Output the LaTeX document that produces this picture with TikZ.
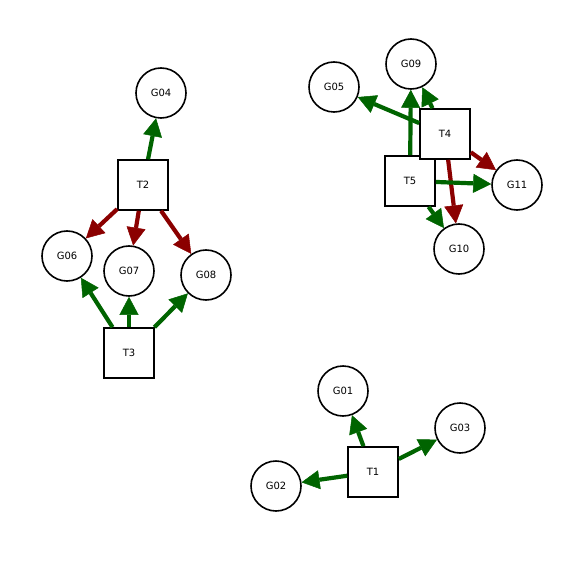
\documentclass[tikz,border=0pt]{standalone}
\usepackage{fontspec}
\setmainfont{DejaVu Sans}
\usetikzlibrary{arrows.meta}
\definecolor{eg}{RGB}{0,100,0}
\definecolor{er}{RGB}{139,0,0}
\begin{document}
\begin{tikzpicture}[x=1pt,y=-1pt,
  gnode/.style={circle,draw=black,line width=1.6pt,fill=white,minimum size=50pt,inner sep=0pt,font=\fontsize{10}{10}\selectfont},
  tnode/.style={rectangle,draw=black,line width=1.6pt,fill=white,minimum size=50pt,inner sep=0pt,font=\fontsize{10}{10}\selectfont},
  edge/.style={line width=4.2pt,-{Triangle[length=18pt,width=19pt,line width=0.5pt]}},
  ge/.style={edge,draw=eg,fill=eg},
  re/.style={edge,draw=er,fill=er}]
\useasboundingbox (0,0) rectangle (585,585);
\node[gnode] (G04) at (161,93) {G04};
\node[tnode] (T2) at (143,185) {T2};
\node[gnode] (G06) at (67,256) {G06};
\node[gnode] (G07) at (129,271) {G07};
\node[gnode] (G08) at (206,275) {G08};
\node[tnode] (T3) at (129,353) {T3};
\node[gnode] (G05) at (334,87) {G05};
\node[gnode] (G09) at (411,64) {G09};
\node[tnode] (T5) at (410,181) {T5};
\node[tnode] (T4) at (445,134) {T4};
\node[gnode] (G11) at (517,185) {G11};
\node[gnode] (G10) at (459,249) {G10};
\node[gnode] (G01) at (343,391) {G01};
\node[gnode] (G03) at (460,428) {G03};
\node[tnode] (T1) at (373,472) {T1};
\node[gnode] (G02) at (276,486) {G02};
\draw[ge] (T2) -- (G04);
\draw[re] (T2) -- (G06);
\draw[re] (T2) -- (G07);
\draw[re] (T2) -- (G08);
\draw[ge] (T3) -- (G06);
\draw[ge] (T3) -- (G07);
\draw[ge] (T3) -- (G08);
\draw[ge] (T4) -- (G05);
\draw[ge] (T4) -- (G09);
\draw[re] (T4) -- (G11);
\draw[re] (T4) -- (G10);
\draw[ge] (T5) -- (G09);
\draw[ge] (T5) -- (G11);
\draw[ge] (T5) -- (G10);
\draw[ge] (T1) -- (G01);
\draw[ge] (T1) -- (G02);
\draw[ge] (T1) -- (G03);
\end{tikzpicture}
\end{document}
